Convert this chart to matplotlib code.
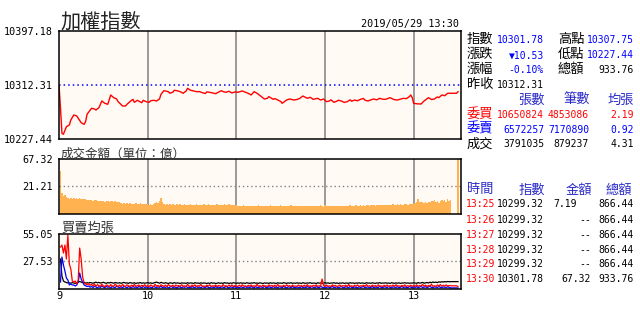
import numpy as np
import matplotlib
matplotlib.use('Agg')
import matplotlib.pyplot as plt

# ---------------- data ----------------
idx_min = [0, 1, 2, 3, 5, 7, 8, 10, 12, 13, 15, 17, 18, 19, 22, 24, 25, 27, 29, 31, 33, 35, 37, 39, 40,
           43, 45, 46, 48, 50, 51, 53, 56, 57, 59, 61, 62, 64, 66, 68, 69, 71, 74, 75, 77, 78, 80, 82, 84,
           86, 87, 89, 91, 93, 95, 97, 99, 100, 102, 104, 106, 108, 110, 111, 113, 115, 117, 119, 121,
           124, 126, 128, 130, 132, 134, 137, 139, 141, 142, 145, 146, 148, 150, 151, 154, 156, 159, 161,
           163, 165, 168, 170, 172, 175, 177, 179, 181, 183, 184, 186, 188, 189, 191, 193, 195, 197, 198,
           200, 202, 204, 206, 207, 209, 211, 213, 215, 217, 219, 221, 224, 226, 227, 229, 231, 233, 235,
           237, 238, 239, 240, 242, 245, 247, 250, 252, 254, 256, 257, 259, 261, 263, 264, 269, 270]
idx_val = [10312.31, 10276.2, 10236.0, 10235.0, 10246.8, 10249.5, 10257.3, 10265.2, 10263.6, 10260.0,
           10253.1, 10250.5, 10254.7, 10266.3, 10275.7, 10274.6, 10273.0, 10276.6, 10287.2, 10283.5,
           10282.0, 10296.6, 10292.4, 10290.3, 10286.1, 10279.3, 10279.3, 10282.0, 10286.1, 10289.8,
           10285.1, 10288.3, 10284.5, 10288.3, 10286.1, 10285.1, 10287.5, 10288.3, 10287.2, 10290.3,
           10297.7, 10303.4, 10301.8, 10299.3, 10301.0, 10304.0, 10303.2, 10301.8, 10299.3, 10302.9,
           10307.1, 10304.0, 10303.0, 10301.8, 10302.0, 10300.2, 10298.9, 10301.5, 10300.8, 10299.8,
           10298.6, 10301.2, 10303.4, 10301.9, 10300.8, 10302.5, 10299.8, 10301.5, 10300.8, 10302.9,
           10301.0, 10299.3, 10296.6, 10301.8, 10299.3, 10294.0, 10290.3, 10291.5, 10294.0, 10289.8,
           10291.0, 10288.7, 10286.5, 10283.5, 10288.7, 10290.3, 10288.7, 10289.5, 10291.4, 10295.0,
           10291.4, 10293.0, 10289.8, 10291.4, 10288.7, 10290.3, 10286.1, 10287.2, 10289.0, 10285.1,
           10286.9, 10288.4, 10287.2, 10284.9, 10286.1, 10289.0, 10286.8, 10288.7, 10287.5, 10289.8,
           10291.2, 10288.5, 10287.2, 10288.9, 10290.3, 10289.0, 10291.4, 10290.0, 10289.8, 10292.4,
           10290.1, 10289.2, 10288.7, 10290.0, 10291.4, 10290.8, 10294.0, 10296.6, 10292.4, 10283.5,
           10282.8, 10282.4, 10287.2, 10292.4, 10289.5, 10290.3, 10293.6, 10292.4, 10296.6, 10295.5,
           10299.3, 10299.32, 10299.32, 10301.78]

minutes = list(range(1, 271))

vol_val = [45.2, 13.2, 10.6, 11.0, 9.4, 8.6, 8.1, 8.4, 7.9, 8.3,
           8.0, 8.5, 7.8, 8.2, 7.6, 8.0, 7.4, 7.9, 7.2, 7.0,
           6.6, 6.8, 6.2, 6.5, 6.9, 6.3, 6.0, 6.4, 5.8, 6.1,
           5.6, 6.2, 5.9, 5.4, 6.0, 5.7, 5.5, 5.9, 5.3, 5.6,
           5.2, 4.4, 4.2, 4.6, 4.0, 4.3, 4.1, 4.5, 3.9, 4.2,
           4.0, 4.4, 3.8, 4.1, 4.3, 3.9, 4.0, 3.7, 4.2, 3.8,
           3.6, 3.9, 3.5, 3.8, 4.4, 5.1, 4.6, 6.2, 8.3, 5.0,
           3.9, 3.6, 3.8, 3.4, 3.7, 3.5, 3.9, 3.3, 3.6, 3.8,
           3.4, 3.7, 3.5, 3.3, 3.8, 3.6, 3.4, 3.5, 3.7, 3.3,
           3.6, 3.4, 3.9, 3.5, 3.2, 3.6, 3.4, 3.7, 3.3, 3.5,
           3.8, 3.4, 3.2, 3.6, 3.5, 3.3, 3.9, 3.4, 3.6, 3.2,
           3.5, 3.7, 3.3, 3.4, 3.8, 3.2, 3.5, 3.6, 3.1, 3.0,
           2.8, 2.9, 2.7, 2.8, 3.0, 2.6, 2.8, 2.9, 2.7, 2.8,
           2.7, 2.9, 2.6, 2.8, 3.3, 2.9, 2.7, 2.8, 2.6, 2.9,
           2.8, 2.7, 3.0, 2.6, 2.8, 2.9, 2.7, 2.6, 2.8, 3.1,
           2.7, 2.8, 2.6, 2.9, 2.7, 2.8, 3.2, 2.6, 2.8, 2.7,
           2.9, 2.6, 2.8, 2.7, 2.5, 2.8, 2.6, 2.9, 2.7, 2.5,
           2.8, 2.6, 2.9, 2.7, 2.5, 2.8, 3.0, 2.6, 2.4, 3.2,
           2.8, 2.6, 2.9, 2.7, 2.5, 2.8, 2.9, 2.6, 2.7, 2.9,
           2.6, 2.8, 2.7, 2.9, 2.6, 2.8, 3.1, 2.7, 2.9, 2.8,
           3.0, 2.8, 2.9, 3.2, 2.7, 3.0, 2.9, 3.3, 3.0, 2.9,
           3.1, 3.4, 3.0, 2.9, 3.2, 3.3, 3.0, 3.5, 3.1, 3.2,
           3.3, 3.6, 3.4, 3.1, 3.5, 3.8, 3.4, 3.6, 3.9, 3.5,
           3.7, 3.4, 3.6, 4.0, 3.7, 3.5, 3.9, 4.1, 3.8, 4.2,
           4.8, 5.2, 7.6, 5.6, 5.0, 5.3, 4.9, 5.1, 4.6, 5.4,
           5.0, 5.8, 6.3, 7.2, 5.5, 6.0, 4.8, 5.7, 6.5, 5.9,
           6.8, 5.6, 7.4, 6.2, 7.19, 0, 0, 0, 0, 67.32]

deal_avg = [30, 13, 8, 7, 6.5, 6, 6.2, 5.8, 6.4, 6, 5.6, 6.2, 6.8, 7.5, 6.9, 6.4, 6.6, 6, 6.3, 5.9,
            6.5, 6.1, 5.8, 6.4, 6.8, 6.2, 6.6, 5.9, 6.3, 6.7, 6.1, 5.7, 6.4, 6.0, 6.6, 6.2, 5.8, 6.5, 6.1, 5.9,
            6.3, 5.7, 6.1, 6.6, 5.9, 6.2, 5.6, 6.4, 6.0, 5.8, 6.3, 5.5, 6.1, 5.9, 6.5, 5.7, 6.2, 5.8, 6.0, 6.4,
            5.8, 6.2, 5.6, 6.0, 6.5, 6.9, 6.3, 5.8, 6.6, 6.1, 5.7, 6.3, 5.9, 5.5, 6.2, 6.0, 5.6, 6.4, 5.8, 6.1,
            5.9, 5.5, 6.2, 5.8, 6.0, 5.6, 6.3, 5.7, 6.1, 5.9, 5.5, 6.4, 5.8, 6.0, 5.6, 6.2, 5.7, 6.1, 5.9, 5.5,
            6.0, 5.6, 6.3, 5.8, 6.1, 5.5, 5.9, 6.2, 5.7, 6.0, 5.6, 6.4, 5.8, 6.1, 5.5, 6.0, 5.7, 6.3, 5.9, 5.6,
            6.1, 5.7, 6.2, 5.8, 6.0, 5.5, 6.3, 5.9, 5.6, 6.1, 5.8, 6.4, 5.7, 6.0, 5.6, 6.2, 5.9, 5.5, 6.1, 5.8,
            6.0, 5.6, 6.3, 5.7, 6.1, 5.9, 5.5, 6.2, 5.8, 6.0, 5.6, 6.4, 5.9, 5.7, 6.1, 5.8, 6.3, 5.6, 6.0, 5.7,
            6.2, 5.8, 6.0, 5.5, 6.3, 5.9, 5.7, 6.1, 5.8, 6.4, 5.6, 6.0, 5.9, 5.5, 6.2, 5.8, 6.1, 5.7, 6.0, 6.3,
            5.8, 6.1, 5.6, 6.0, 5.9, 6.3, 5.7, 6.1, 5.5, 6.0, 5.8, 6.2, 5.6, 6.0, 5.9, 5.7, 6.3, 5.8, 6.1, 5.6,
            6.0, 5.8, 6.2, 5.7, 6.1, 5.9, 5.6, 6.3, 5.8, 6.0, 5.7, 6.2, 5.9, 5.6, 6.1, 5.8, 6.4, 5.7, 6.0, 5.9,
            6.2, 5.8, 6.0, 5.6, 6.3, 5.9, 5.7, 6.1, 5.8, 6.2, 5.6, 6.0, 5.9, 6.3, 5.8, 6.1, 5.7, 6.0, 5.9, 6.2,
            6.0, 5.7, 6.4, 5.9, 6.1, 6.6, 5.8, 6.2, 6.5, 6.0, 6.8, 6.3, 7.0, 6.5, 6.9, 6.4, 7.2, 6.8, 7.3, 7.0,
            7.4, 7.1, 7.5, 7.3, 7.4, 7.4, 7.4, 7.4, 7.4, 7.4]

bid_avg = [42, 44, 36, 44, 30, 54, 25, 20, 8, 7, 8, 5, 9, 41, 30, 12, 6, 5, 4.5, 5.2,
           3.8, 4.6, 3.2, 5.1, 2.8, 4.3, 3.5, 2.6, 4.8, 3.1, 2.4, 4.0, 3.6, 2.2, 4.4, 3.0, 2.7, 4.9, 3.3, 2.5,
           3.9, 2.3, 4.5, 3.1, 2.6, 4.1, 3.4, 2.2, 3.8, 2.9, 4.6, 2.5, 3.2, 4.0, 2.4, 3.7, 2.8, 4.3, 2.6, 3.5,
           2.3, 4.1, 3.0, 2.5, 4.7, 2.8, 3.6, 2.2, 4.2, 3.3, 2.6, 3.9, 2.4, 4.4, 3.1, 2.7, 3.8, 2.3, 4.0, 2.9,
           3.5, 2.4, 4.3, 2.8, 3.2, 2.5, 4.6, 3.0, 2.3, 3.9, 2.7, 4.1, 2.5, 3.4, 2.9, 4.5, 2.6, 3.1, 2.4, 3.8,
           2.8, 4.2, 2.5, 3.3, 2.7, 4.0, 2.4, 3.6, 3.0, 2.6, 4.4, 2.8, 3.2, 2.5, 3.9, 2.7, 4.1, 2.4, 3.5, 2.9,
           2.6, 3.8, 2.5, 4.3, 2.9, 3.1, 2.4, 3.7, 2.8, 4.0, 2.5, 3.3, 2.7, 4.6, 2.6, 3.4, 2.3, 3.9, 2.8, 3.2,
           2.5, 4.1, 2.9, 3.5, 2.6, 3.8, 2.4, 4.4, 2.8, 3.0, 2.6, 3.7, 2.5, 4.2, 2.9, 3.3, 2.4, 3.9, 2.7, 3.1,
           2.6, 4.0, 2.8, 3.4, 2.5, 3.8, 2.7, 4.3, 2.6, 3.2, 2.4, 3.6, 2.9, 4.1, 2.5, 3.3, 2.8, 10.0, 3.5, 2.6,
           3.9, 2.7, 3.2, 2.5, 4.2, 2.8, 3.6, 2.4, 3.0, 4.0, 2.6, 3.4, 2.8, 3.8, 2.5, 4.5, 2.7, 3.1, 2.6, 3.7,
           2.8, 4.1, 2.5, 3.3, 2.9, 3.8, 2.6, 4.4, 2.7, 3.2, 2.5, 3.9, 2.8, 3.5, 2.4, 4.2, 2.9, 3.1, 2.6, 3.7,
           2.7, 4.0, 2.5, 3.4, 2.8, 3.9, 2.6, 4.3, 2.9, 3.2, 2.5, 3.6, 2.8, 4.1, 2.6, 3.3, 2.7, 3.8, 2.5, 3.5,
           2.8, 4.2, 2.6, 3.4, 3.0, 4.6, 2.7, 3.9, 2.5, 3.6, 2.9, 4.8, 2.7, 3.3, 2.6, 4.0, 3.1, 4.4, 2.8, 3.7,
           3.0, 4.1, 2.9, 3.5, 3.2, 3.2, 3.2, 3.2, 3.2, 2.19]

ask_avg = [7, 32, 24, 18, 11, 9, 4, 5, 4, 4, 3, 4, 7, 16, 10, 7, 4, 3.2, 2.5, 3.0,
           1.8, 2.6, 1.4, 2.9, 2.0, 1.2, 2.4, 1.6, 3.0, 1.9, 1.3, 2.7, 1.7, 2.2, 1.1, 2.5, 1.8, 1.4, 2.8, 2.0,
           1.5, 2.3, 1.2, 2.6, 1.9, 1.3, 2.4, 1.7, 1.1, 2.8, 1.6, 2.1, 1.3, 2.5, 1.8, 1.2, 2.7, 1.5, 2.0, 1.4,
           2.3, 1.7, 1.1, 2.6, 1.9, 1.4, 2.2, 1.6, 2.9, 1.3, 2.0, 1.5, 2.4, 1.2, 1.8, 2.7, 1.4, 2.1, 1.6, 1.1,
           2.5, 1.8, 1.3, 2.2, 1.6, 2.8, 1.4, 1.9, 1.2, 2.4, 1.7, 1.3, 2.6, 1.5, 2.0, 1.2, 2.3, 1.8, 1.4, 2.7,
           1.6, 1.2, 2.1, 1.8, 1.3, 2.5, 1.5, 1.9, 1.2, 2.4, 1.7, 1.4, 2.8, 1.6, 1.1, 2.2, 1.8, 1.3, 2.6, 1.5,
           1.9, 1.2, 2.3, 1.7, 1.4, 2.7, 1.5, 2.0, 1.3, 2.4, 1.8, 1.1, 2.5, 1.6, 1.3, 2.2, 1.9, 1.4, 2.8, 1.5,
           1.2, 2.3, 1.7, 1.4, 2.6, 1.5, 2.0, 1.2, 2.4, 1.8, 1.3, 2.7, 1.6, 1.1, 2.2, 1.9, 1.4, 2.5, 1.5, 1.3,
           2.1, 1.7, 1.2, 2.6, 1.5, 1.9, 1.3, 2.4, 1.8, 1.4, 2.8, 1.6, 1.2, 2.3, 1.7, 1.4, 2.5, 1.9, 1.3, 2.0,
           1.5, 2.4, 1.2, 1.8, 2.6, 1.4, 1.7, 2.2, 1.3, 1.9, 2.5, 1.5, 1.2, 2.3, 1.8, 1.4, 2.7, 1.6, 1.3, 2.1,
           1.7, 1.2, 2.4, 1.5, 1.9, 2.6, 1.3, 1.8, 2.2, 1.4, 1.6, 2.5, 1.2, 2.0, 1.7, 1.4, 2.8, 1.5, 1.3, 2.3,
           1.8, 1.4, 2.6, 1.6, 1.2, 2.2, 1.9, 1.5, 2.4, 1.3, 1.7, 2.7, 1.4, 2.0, 1.6, 1.3, 2.5, 1.8, 1.2, 2.1,
           1.6, 2.4, 1.3, 1.9, 2.6, 1.5, 1.8, 2.3, 1.4, 2.0, 2.7, 1.6, 1.3, 2.2, 1.9, 1.5, 2.5, 1.7, 1.4, 2.1,
           1.8, 1.5, 2.3, 1.6, 1.1, 1.1, 1.1, 1.1, 1.1, 0.92]

hour_ticks = [0, 60, 120, 180, 240]
hour_labels = ['9', '10', '11', '12', '13']

idx_ticks = [10227.44, 10312.31, 10397.18]
vol_ticks = [21.21, 67.32]
avg_ticks = [27.53, 55.05]
prev_close = 10312.31

tbl_time = ['13:25', '13:26', '13:27', '13:28', '13:29', '13:30']
tbl_index = ['10299.32', '10299.32', '10299.32', '10299.32', '10299.32', '10301.78']
tbl_amt = ['7.19', '--', '--', '--', '--', '67.32']
tbl_total = ['866.44', '866.44', '866.44', '866.44', '866.44', '933.76']

# ---------------- figure ----------------
W, H = 640, 320
fig = plt.figure(figsize=(6.4, 3.2), dpi=100)
fig.patch.set_facecolor('white')

CJK = ['Noto Sans CJK TC', 'DejaVu Sans']
MONO = ['DejaVu Sans Mono', 'DejaVu Sans']
BLUE = '#0000ff'
HBLUE = '#2a2ac8'
RED = '#ff0000'
BG = '#fffbf4'
GRID = '#808080'
MS = 7.0   # mono size
CS = 9.5   # cjk size for info panel

def fx(x):
    return x / W

def fy(y):
    return 1 - y / H

L, R = 59, 461

def add_ax(top, bottom):
    ax = fig.add_axes([fx(L), fy(bottom), (R - L) / W, (bottom - top) / H])
    ax.set_facecolor(BG)
    for s in ax.spines.values():
        s.set_linewidth(1.1)
        s.set_color('black')
        s.set_zorder(5)
    ax.set_xlim(0, 272)
    for t in hour_ticks[1:]:
        ax.axvline(t, color=GRID, lw=1.1, zorder=1)
    ax.tick_params(length=0, pad=4.5, labelsize=7.3)
    ax.set_xticks(hour_ticks)
    ax.set_xticklabels([])
    return ax

ax1 = add_ax(31, 139)
ax2 = add_ax(159, 214)
ax3 = add_ax(234, 289)

# main index panel
ax1.set_ylim(idx_ticks[0], idx_ticks[-1])
ax1.axhline(prev_close, color=BLUE, lw=1.1, ls=(0, (1, 2)), zorder=2)
ax1.plot(idx_min, idx_val, color=RED, lw=1.0, zorder=3)
ax1.set_yticks(idx_ticks)
ax1.set_yticklabels([f'{v:.2f}' for v in idx_ticks], family=MONO)

# volume panel (compressed scale)
ax2.set_yscale('function', functions=(lambda v: np.power(np.clip(v, 0, None), 0.6),
                                      lambda v: np.power(np.clip(v, 0, None), 1 / 0.6)))
ax2.set_ylim(0, vol_ticks[-1])
ax2.bar(minutes, vol_val, width=1.0, color='#ffb24f', linewidth=0, zorder=2)
ax2.axhline(vol_ticks[0], color=GRID, lw=1.0, ls=(0, (1, 2)), zorder=3)
ax2.set_yticks(vol_ticks)
ax2.set_yticklabels([f'{v:.2f}' for v in vol_ticks], family=MONO)
ax2.minorticks_off()

# average lot size panel
ax3.set_ylim(0, avg_ticks[-1])
ax3.axhline(avg_ticks[0], color=GRID, lw=1.0, ls=(0, (1, 2)), zorder=2)
ax3.plot(minutes, deal_avg, color='black', lw=0.9, zorder=3)
ax3.plot(minutes, ask_avg, color=BLUE, lw=0.9, zorder=3)
ax3.plot(minutes, bid_avg, color=RED, lw=0.9, zorder=4)
ax3.set_yticks(avg_ticks)
ax3.set_yticklabels([f'{v:.2f}' for v in avg_ticks], family=MONO)
ax3.set_xticklabels(hour_labels, family=MONO)
ax3.tick_params(axis='x', pad=1.5)

# ---------------- texts ----------------
def txt(x, y, s, ha='left', color='black', size=MS, family=MONO):
    fig.text(fx(x), fy(y), s, ha=ha, va='baseline', color=color, fontsize=size, family=family)

txt(60, 28.5, '加權指數', size=14.5, family=CJK, color='#222222')
txt(459, 27.3, '2019/05/29 13:30', ha='right', size=7.3)
txt(61, 157.5, '成交金額（單位：億）', size=9, family=CJK, color='#333333')
txt(61, 231.5, '買賣均張', size=9.5, family=CJK, color='#333333')

# rows 1-4
txt(467, 43.3, '指數', size=CS, family=CJK)
txt(544, 43.3, '10301.78', ha='right', color=BLUE)
txt(558, 43.3, '高點', size=CS, family=CJK)
txt(634, 43.3, '10307.75', ha='right', color=BLUE)

txt(467, 58.3, '漲跌', size=CS, family=CJK)
txt(544, 58.3, '▼10.53', ha='right', color=BLUE)
txt(558, 58.3, '低點', size=CS, family=CJK)
txt(634, 58.3, '10227.44', ha='right', color=BLUE)

txt(467, 72.7, '漲幅', size=CS, family=CJK)
txt(544, 72.7, '-0.10%', ha='right', color=BLUE)
txt(558, 72.7, '總額', size=CS, family=CJK)
txt(634, 72.7, '933.76', ha='right')

txt(467, 87.7, '昨收', size=CS, family=CJK)
txt(544, 87.7, '10312.31', ha='right')

# order book block
txt(518, 103.5, '張數', size=CS, family=CJK, color=HBLUE)
txt(563, 103.5, '筆數', size=CS, family=CJK, color=HBLUE)
txt(608, 103.5, '均張', size=CS, family=CJK, color=HBLUE)

book_rows = [('委買', '10650824', '4853086', '2.19', RED, 118.3),
             ('委賣', '6572257', '7170890', '0.92', BLUE, 132.7),
             ('成交', '3791035', '879237', '4.31', 'black', 147.3)]
for lab, a, b, c, col, yb in book_rows:
    txt(467, yb, lab, size=CS, family=CJK, color=col)
    txt(544, yb, a, ha='right', color=col)
    txt(589, yb, b, ha='right', color=col)
    txt(634, yb, c, ha='right', color=col)

# minute table
txt(467, 193.5, '時間', size=CS, family=CJK, color=HBLUE)
txt(519, 193.5, '指數', size=CS, family=CJK, color=HBLUE)
txt(566, 193.5, '金額', size=CS, family=CJK, color=HBLUE)
txt(606, 193.5, '總額', size=CS, family=CJK, color=HBLUE)

row_base = [207.3, 222.7, 237.7, 252.7, 267.3, 281.7]
for t, iv, am, tot, yb in zip(tbl_time, tbl_index, tbl_amt, tbl_total, row_base):
    txt(466, yb, t, color=RED)
    txt(544, yb, iv, ha='right')
    txt(577 if am == '7.19' else 591, yb, am, ha='right')
    txt(634, yb, tot, ha='right')

fig.savefig('out.png', dpi=100, facecolor='white')
